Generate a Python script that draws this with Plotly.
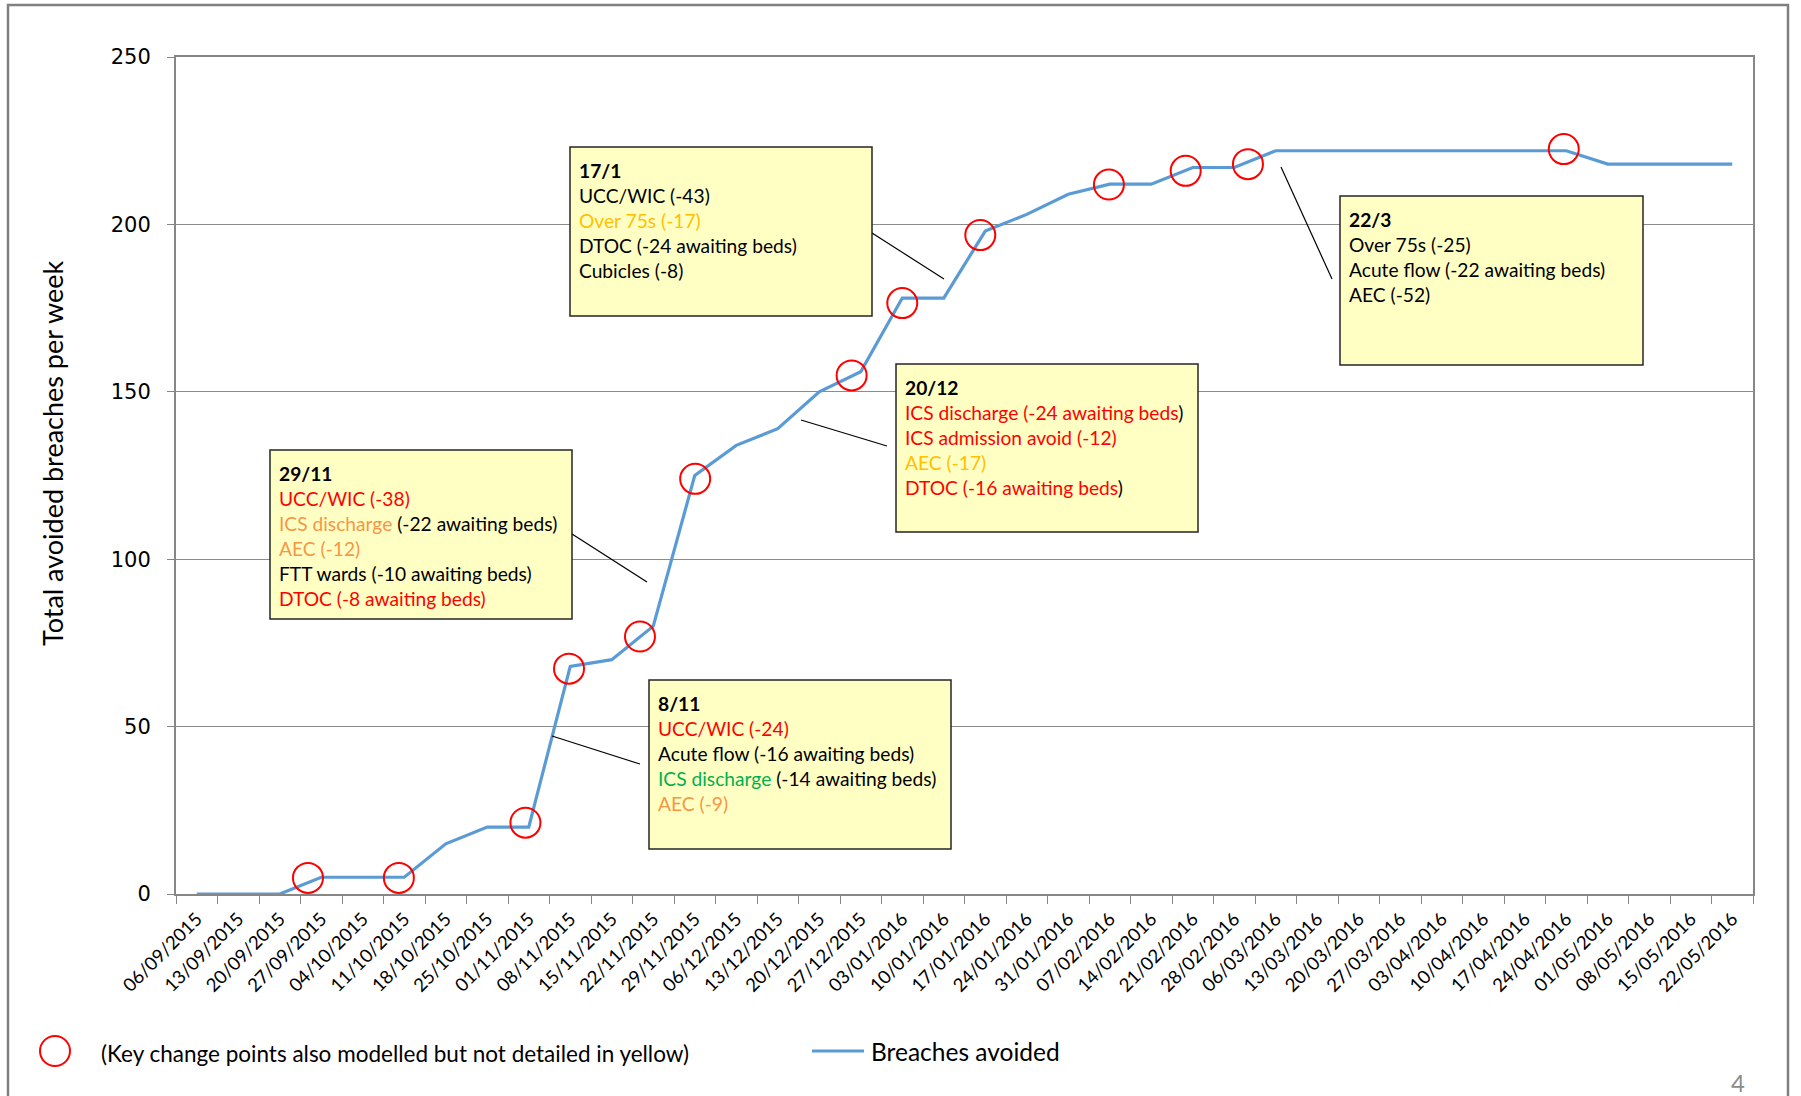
import plotly.graph_objects as go

# ---------------- data ----------------
week_labels = [
    "06/09/2015", "13/09/2015", "20/09/2015", "27/09/2015", "04/10/2015", "11/10/2015",
    "18/10/2015", "25/10/2015", "01/11/2015", "08/11/2015", "15/11/2015", "22/11/2015",
    "29/11/2015", "06/12/2015", "13/12/2015", "20/12/2015", "27/12/2015", "03/01/2016",
    "10/01/2016", "17/01/2016", "24/01/2016", "31/01/2016", "07/02/2016", "14/02/2016",
    "21/02/2016", "28/02/2016", "06/03/2016", "13/03/2016", "20/03/2016", "27/03/2016",
    "03/04/2016", "10/04/2016", "17/04/2016", "24/04/2016", "01/05/2016", "08/05/2016",
    "15/05/2016", "22/05/2016",
]
breaches_avoided = [
    0, 0, 0, 5, 5, 5, 15, 20, 20, 68, 70, 80, 125, 134, 139, 150, 156, 178, 178,
    198, 203, 209, 212, 212, 217, 217, 222, 222, 222, 222, 222, 222, 222, 222,
    218, 218, 218, 218,
]
# key change points (position in weeks from first week, value)
change_week_pos = [2.68, 4.87, 7.92, 8.97, 10.68, 12.01, 15.78, 17.0, 18.88, 21.98, 23.83, 25.33, 32.94]
change_value = [4.8, 4.8, 21.3, 67.3, 76.9, 124, 154.9, 176.5, 196.8, 211.9, 216, 218, 222.5]

y_ticks = [0, 50, 100, 150, 200, 250]

RED = "#FF0000"
GOLD = "#FFC000"
ORANGE = "#F79646"
GREEN = "#00B050"


def c(t, col):
    return f"<span style='color:{col}'>{t}</span>"


box_texts = [
    "<b>17/1</b><br>UCC/WIC (-43)<br>" + c("Over 75s (-17)", GOLD)
    + "<br>DTOC (-24 awaiting beds)<br>Cubicles (-8)",
    "<b>29/11</b><br>" + c("UCC/WIC (-38)", RED) + "<br>" + c("ICS discharge", ORANGE)
    + " (-22 awaiting beds)<br>" + c("AEC (-12)", ORANGE)
    + "<br>FTT wards (-10 awaiting beds)<br>" + c("DTOC (-8 awaiting beds)", RED),
    "<b>20/12</b><br>" + c("ICS discharge (-24 awaiting beds", RED) + ")<br>"
    + c("ICS admission avoid (-12)", RED) + "<br>" + c("AEC (-17)", GOLD) + "<br>"
    + c("DTOC (-16 awaiting beds", RED) + ")",
    "<b>8/11</b><br>" + c("UCC/WIC (-24)", RED) + "<br>Acute flow (-16 awaiting beds)<br>"
    + c("ICS discharge", GREEN) + " (-14 awaiting beds)<br>" + c("AEC (-9)", ORANGE),
    "<b>22/3</b><br>Over 75s (-25)<br>Acute flow (-22 awaiting beds)<br>AEC (-52)",
]

# ---------------- layout geometry (pixels) ----------------
W, H = 1801, 1096
PL, PR, PT, PB = 176, 1753, 57, 894


def px(x):
    return (x - PL) / (PR - PL)


def py(y):
    return (PB - y) / (PB - PT)


box_rects = [
    (570, 147, 872, 316),
    (270, 450, 572, 619),
    (896, 364, 1198, 532),
    (649, 680, 951, 849),
    (1340, 196, 1643, 365),
]
connectors = [
    (872, 233, 944, 279),
    (572, 534, 647, 582),
    (887, 446, 801, 420),
    (640, 764, 552, 736),
    (1332, 279, 1281, 167),
]

xs = list(range(len(week_labels)))

fig = go.Figure()
fig.add_trace(go.Scatter(
    x=xs, y=breaches_avoided, mode="lines", name="Breaches avoided",
    line=dict(color="#5B9BD5", width=3.2), showlegend=False, hoverinfo="x+y",
))
fig.add_trace(go.Scatter(
    x=change_week_pos, y=change_value, mode="markers", name="Key change points",
    marker=dict(symbol="circle-open", size=30, color=RED, line=dict(color=RED, width=2)),
    showlegend=False,
))

shapes = []
annotations = []

# outer frame
shapes.append(dict(type="rect", xref="paper", yref="paper",
                   x0=px(8), x1=px(1788), y0=py(1300), y1=py(5),
                   line=dict(color="#808080", width=2.5), layer="below"))

for (x0, y0, x1, y1), txt in zip(box_rects, box_texts):
    shapes.append(dict(type="rect", xref="paper", yref="paper",
                       x0=px(x0), x1=px(x1), y0=py(y1), y1=py(y0),
                       fillcolor="#FFFFC4", line=dict(color="#262626", width=1.5),
                       layer="above"))
    annotations.append(dict(xref="paper", yref="paper", x=px(x0 + 7), y=py(y0 + 10),
                            xanchor="left", yanchor="top", align="left", showarrow=False,
                            text=txt, font=dict(family="Lato", size=19.2, color="#000000")))

for (x0, y0, x1, y1) in connectors:
    shapes.append(dict(type="line", xref="paper", yref="paper",
                       x0=px(x0), x1=px(x1), y0=py(y0), y1=py(y1),
                       line=dict(color="#000000", width=1.2)))

# custom legend
shapes.append(dict(type="circle", xref="paper", yref="paper",
                   x0=px(40), x1=px(70), y0=py(1066), y1=py(1036),
                   line=dict(color=RED, width=2)))
annotations.append(dict(xref="paper", yref="paper", x=px(99), y=py(1053),
                        xanchor="left", yanchor="middle", showarrow=False,
                        text="(Key change points also modelled but not detailed in yellow)",
                        font=dict(family="Lato", size=22.5, color="#000000")))
shapes.append(dict(type="line", xref="paper", yref="paper",
                   x0=px(812), x1=px(864), y0=py(1051), y1=py(1051),
                   line=dict(color="#5B9BD5", width=3.2)))
annotations.append(dict(xref="paper", yref="paper", x=px(869), y=py(1051),
                        xanchor="left", yanchor="middle", showarrow=False,
                        text="Breaches avoided",
                        font=dict(family="Lato", size=24.5, color="#000000")))

# y axis title
annotations.append(dict(xref="paper", yref="paper", x=px(53), y=py(454),
                        xanchor="center", yanchor="middle", showarrow=False, textangle=-90,
                        text="Total avoided breaches per week",
                        font=dict(family="Lato", size=27, color="#000000")))
# page number
annotations.append(dict(xref="paper", yref="paper", x=px(1738), y=py(1082),
                        xanchor="center", yanchor="middle", showarrow=False,
                        text="4", font=dict(family="Lato", size=24, color="#8C8C8C")))

fig.update_layout(
    width=W, height=H,
    margin=dict(l=PL, r=W - PR, t=PT, b=H - PB),
    paper_bgcolor="#FFFFFF", plot_bgcolor="#FFFFFF",
    showlegend=False,
    shapes=shapes, annotations=annotations,
    xaxis=dict(
        range=[-0.5, len(week_labels) - 0.5], tickmode="array", tickvals=xs,
        ticktext=week_labels, tickangle=-45, ticks="",
        tickfont=dict(family="Lato", size=18.5, color="#000000"),
        showgrid=False, zeroline=False,
        showline=True, linecolor="#868686", linewidth=2, mirror=True,
        minor=dict(tick0=-0.5, dtick=1, ticks="outside", ticklen=8,
                   tickcolor="#868686", tickwidth=1, showgrid=False),
        ticklabelstandoff=5,
    ),
    yaxis=dict(
        range=[0, 250], tickmode="array", tickvals=y_ticks,
        ticks="outside", ticklen=7, tickcolor="#868686",
        tickfont=dict(family="DejaVu Sans", size=21, color="#000000"),
        showgrid=True, gridcolor="#8C8C8C", gridwidth=1, zeroline=False,
        showline=True, linecolor="#868686", linewidth=2, mirror=True,
        ticklabelstandoff=12,
    ),
)

fig.write_html("out.html", config={"displayModeBar": False},
               post_script="document.body.style.margin='0px';document.body.style.overflow='hidden';")
